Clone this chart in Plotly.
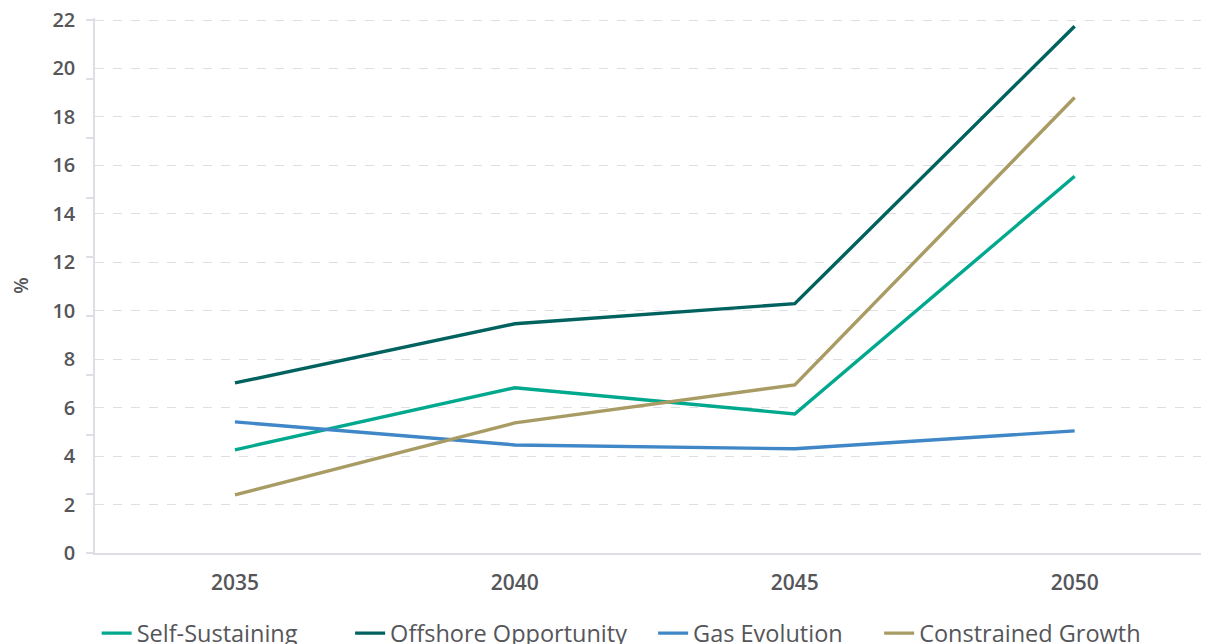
import plotly.graph_objects as go

years = ["2035", "2040", "2045", "2050"]
self_sustaining = [4.26, 6.82, 5.74, 15.55]
offshore_opportunity = [7.02, 9.46, 10.29, 21.74]
gas_evolution = [5.41, 4.46, 4.30, 5.04]
constrained_growth = [2.40, 5.37, 6.94, 18.8]
y_ticks = [0, 2, 4, 6, 8, 10, 12, 14, 16, 18, 20, 22]

series = [
    ("Self-Sustaining", self_sustaining, "#00A88D"),
    ("Offshore Opportunity", offshore_opportunity, "#00625E"),
    ("Gas Evolution", gas_evolution, "#3F87C7"),
    ("Constrained Growth", constrained_growth, "#A99B64"),
]

# one legend per series so each entry can sit where the original has it
legend_x = [0.0015, 0.2290, 0.5010, 0.7039]
legend_names = ["legend", "legend2", "legend3", "legend4"]

fig = go.Figure()
for (name, values, color), lg in zip(series, legend_names):
    fig.add_trace(go.Scatter(
        x=years, y=values, name=name, mode="lines",
        line=dict(color=color, width=3.4), legend=lg,
    ))

# the page adds an 8px body margin, so the figure is 8px smaller each way
fig.update_layout(
    width=1201, height=636,
    margin=dict(l=87, r=0, t=10, b=91, autoexpand=False),
    plot_bgcolor="white", paper_bgcolor="white",
    font=dict(family="Open Sans", color="#55565A"),
    showlegend=True,
)
for lg, lx in zip(legend_names, legend_x):
    fig.update_layout({lg: dict(
        orientation="h", x=lx, y=-0.109, xanchor="left", yanchor="top",
        font=dict(size=23.5, color="#55565A", weight=500),
        bgcolor="rgba(0,0,0,0)",
    )})

fig.update_xaxes(
    type="category", range=[-0.5, 3.48], automargin=False,
    showgrid=False, showline=True, linecolor="#DEDEE4", linewidth=1.5,
    ticks="", tickfont=dict(size=21, color="#55565A", weight=600),
    ticklabelstandoff=10,
)

# a little headroom above 22 so its gridline is still drawn
fig.update_yaxes(
    range=[0, 22.083], tickmode="array", tickvals=y_ticks,
    automargin=False, ticklabeloverflow="allow",
    showgrid=True, gridcolor="#DEDEE4", griddash="dash", gridwidth=1,
    showline=True, linecolor="#DEDEE4", linewidth=1.5,
    ticks="", zeroline=False,
    tickfont=dict(size=20, color="#55565A", weight=600),
    ticklabelstandoff=14,
    minor=dict(ticks="outside", dtick=22 / 9, tick0=0, ticklen=7,
               tickcolor="#DEDEE4", tickwidth=1.5, showgrid=False),
    title=dict(text="%", font=dict(size=19, color="#55565A", weight=600),
               standoff=24),
)

fig.write_html("out.html")
